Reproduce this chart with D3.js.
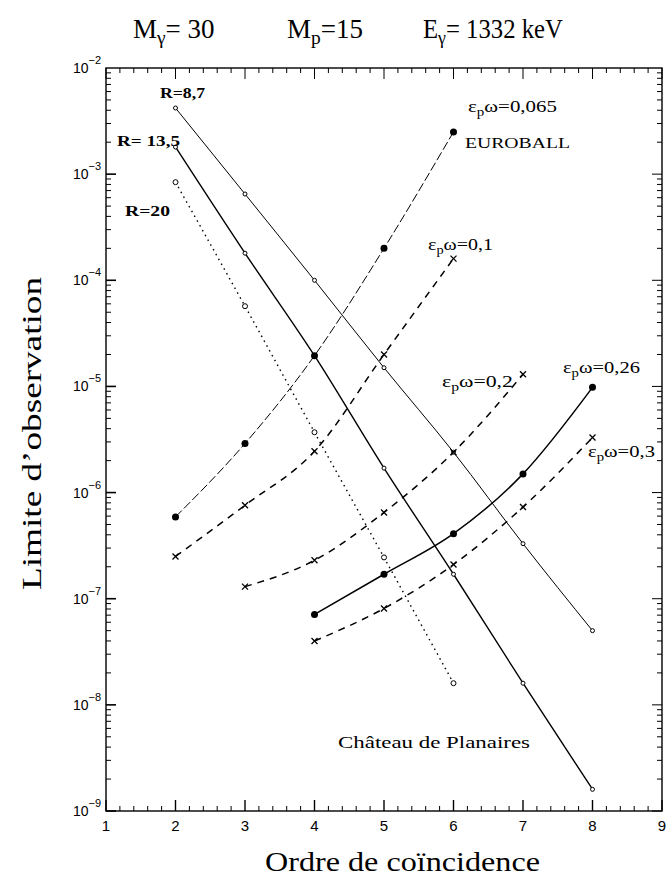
<!DOCTYPE html>
<html><head><meta charset="utf-8">
<script src="https://cdn.jsdelivr.net/npm/d3@7"></script>
<style>body{margin:0;background:#fff}svg{display:block}</style>
</head><body><svg id="c" width="672" height="883"></svg>
<script>
const orders = [1,2,3,4,5,6,7,8,9];
const yDecades = [-2,-3,-4,-5,-6,-7,-8,-9];

const xR87 = [2,3,4,5,6,7,8];
const yR87 = [4.2e-3,6.5e-4,1.0e-4,1.5e-5,2.4e-6,3.3e-7,5.0e-8];
const xR135 = [2,3,4,5,6,7,8];
const yR135 = [1.8e-3,1.8e-4,1.95e-5,1.7e-6,1.7e-7,1.6e-8,1.6e-9];
const xR20 = [2,3,4,5,6];
const yR20 = [8.4e-4,5.7e-5,3.7e-6,2.45e-7,1.6e-8];
const xE065 = [2,3,4,5,6];
const yE065 = [5.9e-7,2.9e-6,1.95e-5,2.0e-4,2.5e-3];
const xE01 = [2,3,4,5,6];
const yE01 = [2.5e-7,7.6e-7,2.45e-6,2.0e-5,1.6e-4];
const xE02 = [3,4,5,6,7];
const yE02 = [1.3e-7,2.3e-7,6.5e-7,2.4e-6,1.3e-5];
const xE026 = [4,5,6,7,8];
const yE026 = [7.1e-8,1.7e-7,4.1e-7,1.5e-6,9.8e-6];
const xE03 = [4,5,6,7,8];
const yE03 = [4.0e-8,8.1e-8,2.1e-7,7.3e-7,3.3e-6];

const svg = d3.select('#c');
const L=106,R=662,T=68,B=811;
const x = d3.scaleLinear().domain([1,9]).range([L,R]);
const y = d3.scaleLog().domain([1e-9,1e-2]).range([B,T]);
const serif = "'Liberation Serif','Times New Roman',serif";
const sans = "'Liberation Sans','DejaVu Sans',sans-serif";

// frame
svg.append('rect').attr('x',L).attr('y',T).attr('width',R-L).attr('height',B-T)
  .attr('fill','none').attr('stroke','#000').attr('stroke-width',1.4);

// y ticks
const g = svg.append('g').attr('stroke','#000').attr('stroke-width',1);
for (let d=-9; d<-2; d++) {
  for (let m=1; m<10; m++) {
    const v = m*Math.pow(10,d);
    const len = m===1?10:5;
    g.append('line').attr('x1',L).attr('x2',L+len).attr('y1',y(v)).attr('y2',y(v)).attr('stroke-width',m===1?1.6:1);
    g.append('line').attr('x1',R).attr('x2',R-len).attr('y1',y(v)).attr('y2',y(v));
  }
}
// x ticks
for (let i=0; i<=40; i++) {
  const t = 1 + i*0.2;
  const major = i%5===0;
  const len = major?11:5;
  g.append('line').attr('x1',x(t)).attr('x2',x(t)).attr('y1',B).attr('y2',B-len).attr('stroke-width',major?1.4:1);
  g.append('line').attr('x1',x(t)).attr('x2',x(t)).attr('y1',T).attr('y2',T+len);
}
// y tick labels
yDecades.forEach(d=>{
  const t = svg.append('text').attr('x',L-5).attr('y',y(Math.pow(10,d))+5)
    .attr('text-anchor','end').attr('font-family',sans).attr('font-size',14);
  t.append('tspan').text('10');
  t.append('tspan').attr('dy',-9).attr('font-size',11).text('\u2212'+(-d));
});
// x tick labels
orders.forEach(o=>{
  svg.append('text').attr('x',x(o)).attr('y',B+20).attr('text-anchor','middle')
    .attr('font-family',sans).attr('font-size',15).text(o);
});

// series
const series = [
  {xs:xR87,ys:yR87,dash:null,w:1,mark:'o',r:2},
  {xs:xR135,ys:yR135,dash:null,w:1.4,mark:'o',r:2},
  {xs:xR20,ys:yR20,dash:'1.5,4',w:1.4,mark:'o',r:2.5},
  {xs:xE065,ys:yE065,dash:'9,3',w:1,mark:'d',r:3.5},
  {xs:xE01,ys:yE01,dash:'7,6',w:1.5,mark:'x',r:3},
  {xs:xE02,ys:yE02,dash:'7,6',w:1.5,mark:'x',r:3},
  {xs:xE026,ys:yE026,dash:null,w:1.5,mark:'d',r:3.5},
  {xs:xE03,ys:yE03,dash:'7,6',w:1.5,mark:'x',r:3},
];
const line = d3.line().x(p=>x(p[0])).y(p=>y(p[1])).curve(d3.curveMonotoneX);
series.forEach(s=>{
  const pts = s.xs.map((v,i)=>[v,s.ys[i]]);
  svg.append('path').attr('d',line(pts)).attr('fill','none').attr('stroke','#000')
    .attr('stroke-width',s.w).attr('stroke-dasharray',s.dash);
  pts.forEach(p=>{
    const cx=x(p[0]), cy=y(p[1]);
    if (s.mark==='o') svg.append('circle').attr('cx',cx).attr('cy',cy).attr('r',s.r)
      .attr('fill','#fff').attr('stroke','#000').attr('stroke-width',1);
    else if (s.mark==='d') svg.append('circle').attr('cx',cx).attr('cy',cy).attr('r',s.r).attr('fill','#000');
    else svg.append('path').attr('d',`M${cx-s.r},${cy-s.r}L${cx+s.r},${cy+s.r}M${cx-s.r},${cy+s.r}L${cx+s.r},${cy-s.r}`)
      .attr('stroke','#000').attr('stroke-width',1.3);
  });
});

// labels
function txt(xp,yp,s,size,bold,len){
  const t = svg.append('text').attr('x',xp).attr('y',yp).attr('font-family',serif)
    .attr('font-size',size).attr('font-weight',bold?'bold':'normal').text(s);
  if (len) t.attr('textLength',len).attr('lengthAdjust','spacingAndGlyphs');
  return t;
}
// rich text: parts [text, isSub], optionally fitted horizontally to width W
function rich(x0,y0,parts,size,W){
  const gg = svg.append('g');
  let cx = 0;
  parts.forEach(([s,isSub])=>{
    const fs = isSub ? size*0.72 : size;
    const t = gg.append('text').attr('x',cx).attr('y',isSub?size*0.22:0)
      .attr('font-family',serif).attr('font-size',fs).text(s);
    cx += t.node().getComputedTextLength();
  });
  const k = W ? W/cx : 1;
  gg.attr('transform',`translate(${x0},${y0}) scale(${k},1)`);
  return gg;
}
txt(160,98,'R=8,7',15,true,45);
txt(117,146,'R= 13,5',15,true,63);
txt(125,216,'R=20',15,true,45);
function eps(x0,y0,val,W){ rich(x0,y0,[['\u03b5',false],['p',true],['\u03c9=' + val,false]],17,W); }
eps(468,112,'0,065',89);
txt(465,148,'EUROBALL',14,false,105);
eps(428,250,'0,1',65);
eps(442,387,'0,2',71);
eps(563,373,'0,26',77);
eps(588,457,'0,3',67);
txt(338,748,'Château de Planaires',17,false,192);

// title
rich(133,38,[['M',false],['\u03b3',true],['= 30',false]],27);
rich(287,38,[['M',false],['p',true],[' =15',false]],27);
rich(423,38,[['E',false],['\u03b3',true],[' = 1332 keV',false]],27,140);

// axis titles
svg.append('text').attr('x',265).attr('y',871)
  .attr('font-family',serif).attr('font-size',27).attr('textLength',275).attr('lengthAdjust','spacingAndGlyphs')
  .text('Ordre de coïncidence');
svg.append('text').attr('transform','translate(41,590) rotate(-90)')
  .attr('font-family',serif).attr('font-size',28).attr('textLength',313).attr('lengthAdjust','spacingAndGlyphs')
  .text('Limite d\u2019observation');
</script></body></html>
